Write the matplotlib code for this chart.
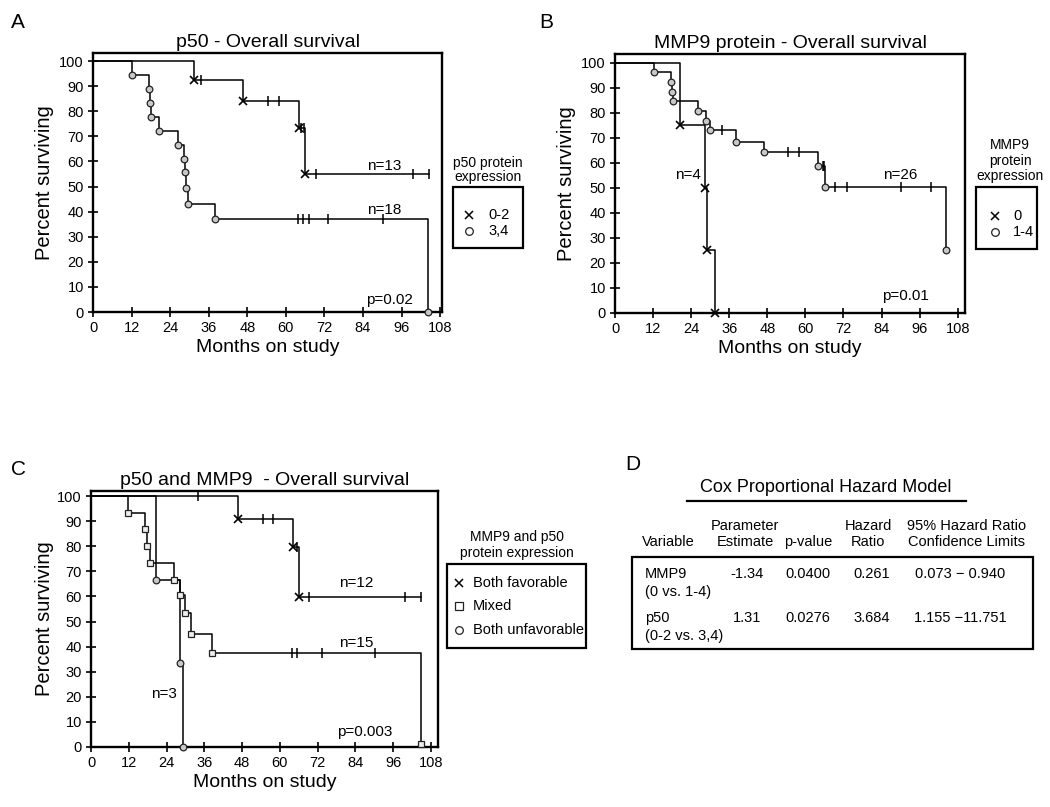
import numpy as np
import matplotlib
matplotlib.use("Agg")
import matplotlib.pyplot as plt
from matplotlib.lines import Line2D
from matplotlib.patches import Rectangle

plt.rcParams['font.family'] = ['Liberation Sans', 'DejaVu Sans']

W, H = 1050, 807

# ---- panel A: p50 ----
a_hi_t = [0, 31.3, 46.7, 64.0, 66.1]
a_hi_s = [100, 92.3, 84.0, 73.5, 55.0]
a_hi_end = 104.6
a_hi_cens = [33.7, 54.4, 57.8, 64.8, 65.6, 69.4, 99.6, 104.6]

a_lo_t = [0, 12.1, 17.3, 17.6, 18.0, 20.6, 26.3, 28.3, 28.5, 29.0, 29.6, 38.0, 104.3]
a_lo_s = [100, 94.4, 88.9, 83.3, 77.8, 72.2, 66.7, 61.1, 55.6, 49.3, 43.1, 37.0, 0]
a_lo_end = 104.3
a_lo_cens = [63.9, 65.5, 67.2, 73.1, 90.1]

# ---- panel B: MMP9 ----
b_neg_t = [0, 20.5, 28.5, 28.9, 31.4]
b_neg_s = [100, 75, 50, 25, 0]
b_neg_end = 31.4
b_neg_cens = []

b_pos_t = [0, 12.4, 17.6, 17.9, 18.4, 26.3, 28.6, 29.9, 38.0, 46.8, 64.0, 66.1, 104.4]
b_pos_s = [100, 96.2, 92.3, 88.5, 84.6, 80.8, 76.9, 73.1, 68.5, 64.2, 58.9, 50.4, 25.2]
b_pos_end = 104.4
b_pos_cens = [33.6, 54.5, 58.0, 65.4, 65.8, 69.3, 73.0, 90.0, 99.5]

# ---- panel C: p50 and MMP9 ----
c_fav_t = [0, 46.7, 64.3, 66.1]
c_fav_s = [100, 91.0, 79.8, 59.8]
c_fav_end = 105.0
c_fav_cens = [34.0, 54.6, 58.0, 65.4, 69.4, 99.9, 105.0]

c_mix_t = [0, 11.8, 17.3, 17.8, 18.7, 26.5, 28.4, 29.8, 31.8, 38.4, 104.8]
c_mix_s = [100, 93.3, 86.7, 80.0, 73.3, 66.7, 60.5, 53.3, 45.0, 37.3, 1.0]
c_mix_end = 104.8
c_mix_cens = [64.0, 65.6, 73.3, 90.2]

c_unf_t = [0, 20.7, 28.4, 29.2]
c_unf_s = [100, 66.7, 33.3, 0]
c_unf_end = 29.2
c_unf_cens = []

xticks = [0, 12, 24, 36, 48, 60, 72, 84, 96, 108]
yticks = [0, 10, 20, 30, 40, 50, 60, 70, 80, 90, 100]

# ---- panel D: Cox table ----
cox_header = ["Variable", "Parameter\nEstimate", "p-value", "Hazard\nRatio",
              "95% Hazard Ratio\nConfidence Limits"]
cox_var = ["MMP9", "p50"]
cox_sub = ["(0 vs. 1-4)", "(0-2 vs. 3,4)"]
cox_est = ["-1.34", "1.31"]
cox_p = ["0.0400", "0.0276"]
cox_hr = ["0.261", "3.684"]
cox_ci = ["0.073 \u2212 0.940", "1.155 \u221211.751"]


def fx(x):
    return x / W


def fy(y):
    return 1 - y / H


def km(ax, times, surv, end, cens, marker, ms=4.8, mfc='#c8c8c8'):
    t = list(times) + [end]
    s = list(surv) + [surv[-1]]
    ax.step(t, s, where='post', color='k', lw=1.1, clip_on=False, zorder=3)
    if marker == 'x':
        ax.plot(times[1:], surv[1:], ls='none', marker='x', ms=6,
                mew=1.2, color='k', clip_on=False, zorder=4)
    else:
        ax.plot(times[1:], surv[1:], ls='none', marker=marker, ms=ms,
                mfc=mfc, mec='#222222', mew=0.9, clip_on=False, zorder=4)
    if len(cens):
        idx = np.searchsorted(times, cens, side='right') - 1
        cy = [surv[i] for i in idx]
        ax.plot(cens, cy, ls='none', marker='|', ms=7, mew=1.1, color='k',
                clip_on=False, zorder=4)


def setup(ax, xmax, ymax, title, top_px, bottom_px, left_px, right_px):
    ax.set_xlim(0, xmax)
    ax.set_ylim(0, ymax)
    ax.set_xticks(xticks)
    ax.set_yticks(yticks)
    ax.tick_params(direction='inout', length=7, width=1.2, labelsize=10.5,
                   pad=3, colors='k')
    for sp in ax.spines.values():
        sp.set_linewidth(1.7)
    ax.set_title(title, fontsize=14, pad=4)
    ax.set_xlabel("Months on study", fontsize=14)
    ax.set_ylabel("Percent surviving", fontsize=14.5)
    hgt = bottom_px - top_px
    wid = right_px - left_px
    ax.xaxis.set_label_coords(0.5, -27 / hgt)
    ax.yaxis.set_label_coords(-(left_px - 54) / wid, 0.5)


fig = plt.figure(figsize=(W / 100, H / 100), dpi=100)

# panel A
axA = fig.add_axes([fx(93), fy(312), fx(442 - 93), (312 - 53) / H])
km(axA, a_hi_t, a_hi_s, a_hi_end, a_hi_cens, 'x')
km(axA, a_lo_t, a_lo_s, a_lo_end, a_lo_cens, 'o')
setup(axA, 108.6, 103.2, "p50 - Overall survival", 53, 312, 93, 442)
axA.text(90.6, 58, "n=13", ha='center', va='center', fontsize=11)
axA.text(90.6, 40.7, "n=18", ha='center', va='center', fontsize=11)
axA.text(92.2, 2.0, "p=0.02", ha='center', va='bottom', fontsize=11)

# panel B
axB = fig.add_axes([fx(615), fy(313), fx(965 - 615), (313 - 54) / H])
km(axB, b_neg_t, b_neg_s, b_neg_end, b_neg_cens, 'x')
km(axB, b_pos_t, b_pos_s, b_pos_end, b_pos_cens, 'o')
setup(axB, 110.3, 103.5, "MMP9 protein - Overall survival", 54, 313, 615, 965)
axB.yaxis.set_label_coords(-(615 - 576) / 350, 0.5)
axB.text(23, 55, "n=4", ha='center', va='center', fontsize=11)
axB.text(89.8, 55, "n=26", ha='center', va='center', fontsize=11)
axB.text(91.4, 4.0, "p=0.01", ha='center', va='bottom', fontsize=11)

# panel C
axC = fig.add_axes([fx(91), fy(747), fx(438 - 91), (747 - 491) / H])
km(axC, c_fav_t, c_fav_s, c_fav_end, c_fav_cens, 'x')
km(axC, c_mix_t, c_mix_s, c_mix_end, c_mix_cens, 's', ms=4.8, mfc='#eeeeee')
km(axC, c_unf_t, c_unf_s, c_unf_end, c_unf_cens, 'o')
setup(axC, 110.3, 102, "p50 and MMP9  - Overall survival", 491, 747, 91, 438)
axC.text(84.4, 65.2, "n=12", ha='center', va='center', fontsize=11)
axC.text(84.4, 41.5, "n=15", ha='center', va='center', fontsize=11)
axC.text(23.3, 21.3, "n=3", ha='center', va='center', fontsize=11)
axC.text(87.0, 3.0, "p=0.003", ha='center', va='bottom', fontsize=11)

# panel letters
for lab, x, y in [("A", 18, 22), ("B", 546, 22), ("C", 18, 470), ("D", 633, 465)]:
    fig.text(fx(x), fy(y), lab, ha='center', va='center', fontsize=15)


# legends (title above an outlined box)
def legend_box(title_lines, title_x, title_y0, title_dy, box, entries):
    for i, t in enumerate(title_lines):
        fig.text(fx(title_x), fy(title_y0 + i * title_dy), t, ha='center',
                 va='center', fontsize=10)
    x0, y0, x1, y1 = box
    fig.add_artist(Rectangle((fx(x0), fy(y1)), fx(x1 - x0), (y1 - y0) / H,
                             transform=fig.transFigure, fill=False,
                             ec='k', lw=1.6))
    for mk, mx, lx, y, label in entries:
        if mk == 'x':
            fig.add_artist(Line2D([fx(mx)], [fy(y)], marker='x', ms=6,
                                  mew=1.1, color='k', ls='none',
                                  transform=fig.transFigure))
        else:
            fig.add_artist(Line2D([fx(mx)], [fy(y)], marker=mk, ms=5.5,
                                  mfc='white', mec='#222222', mew=0.9,
                                  ls='none', transform=fig.transFigure))
        fig.text(fx(lx), fy(y), label, ha='left', va='center', fontsize=10.5)


legend_box(["p50 protein", "expression"], 488, 163, 13.5, (453, 187, 523, 248),
           [('x', 469, 488, 215, "0-2"), ('o', 469, 488, 231, "3,4")])
legend_box(["MMP9", "protein", "expression"], 1010, 145, 15.5,
           (976, 187, 1037, 249),
           [('x', 995, 1013, 216, "0"), ('o', 995, 1013, 232, "1-4")])
legend_box(["MMP9 and p50", "protein expression"], 517, 537, 15.5,
           (447, 564, 586, 648),
           [('x', 459, 473, 583, "Both favorable"),
            ('s', 459, 473, 606, "Mixed"),
            ('o', 459, 473, 630, "Both unfavorable")])

# panel D table
fig.text(fx(826), fy(488), "Cox Proportional Hazard Model", ha='center',
         va='center', fontsize=13)
fig.add_artist(Line2D([fx(687), fx(966)], [fy(501), fy(501)], color='k',
                      lw=1.6, transform=fig.transFigure))
col_x = [642, 745, 808, 868, 967]
for i, h in enumerate(cox_header):
    if i == 0:
        fig.text(fx(col_x[i]), fy(542), h, ha='left', va='center',
                 fontsize=10.5)
    elif "\n" not in h:
        fig.text(fx(col_x[i]), fy(542), h, ha='center', va='center',
                 fontsize=10.5)
    else:
        fig.text(fx(col_x[i]), fy(534), h, ha='center', va='center',
                 fontsize=10.5, linespacing=1.25)
fig.add_artist(Rectangle((fx(632), fy(649)), fx(1033 - 632), (649 - 557) / H,
                         transform=fig.transFigure, fill=False, ec='k',
                         lw=1.6))
row_y = [574, 618]
val_x = [747, 808, 872, 960]
for r in range(len(cox_var)):
    fig.text(fx(645), fy(row_y[r]), cox_var[r], ha='left', va='center',
             fontsize=10.5)
    fig.text(fx(645), fy(row_y[r] + 18), cox_sub[r], ha='left', va='center',
             fontsize=10.5)
    for x, v in zip(val_x, [cox_est[r], cox_p[r], cox_hr[r], cox_ci[r]]):
        fig.text(fx(x), fy(row_y[r]), v, ha='center', va='center',
                 fontsize=10.5)

fig.savefig("out.png", dpi=100)
